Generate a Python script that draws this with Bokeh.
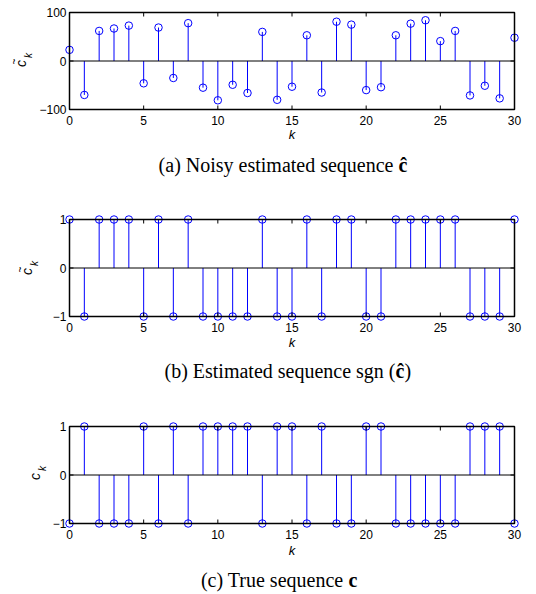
import math

from bokeh.core.properties import value
from bokeh.embed import file_html
from bokeh.layouts import column
from bokeh.models import ColumnDataSource, Range1d
from bokeh.plotting import figure
from bokeh.resources import INLINE

# sample index
k = list(range(31))

# (a) noisy estimate of the sequence
c_hat = [23, -70, 62, 67, 73, -46, 69, -35, 78, -55, -81, -49, -66, 60, -80,
         -53, 53, -65, 81, 75, -60, -54, 53, 77, 84, 41, 62, -71, -51, -77, 48]

# (b) sign of the estimate
sgn_c_hat = [1, -1, 1, 1, 1, -1, 1, -1, 1, -1, -1, -1, -1, 1, -1,
             -1, 1, -1, 1, 1, -1, -1, 1, 1, 1, 1, 1, -1, -1, -1, 1]

# (c) true sequence
c_true = [-1, 1, -1, -1, -1, 1, -1, 1, -1, 1, 1, 1, 1, -1, 1,
          1, -1, 1, -1, -1, 1, 1, -1, -1, -1, -1, -1, 1, 1, 1, -1]

x_ticks = [0, 5, 10, 15, 20, 25, 30]
y_ticks_a = [-100, 0, 100]
y_ticks_bc = [-1, 0, 1]

BLUE = "#0000ff"
FIG_W = 536
BOX_L, BOX_R = 69, 514     # axes box, pixels from the figure's left edge
BOX_T, BOX_B = 12, 109     # axes box, pixels from the figure's top edge
TICK_LEN = 4

SANS = value("Liberation Sans")
SERIF = value("Liberation Serif")


def fmt(t):
    return str(t).replace("-", "\u2212")


class Panel:
    """A stem plot whose data area fills the whole canvas, so markers that sit
    on the box edges and all the text around the box are drawn unclipped."""

    def __init__(self, height, xlim, ylim):
        self.x0, self.x1 = xlim
        self.y0, self.y1 = ylim
        self.ux = (self.x1 - self.x0) / (BOX_R - BOX_L)
        self.uy = (self.y1 - self.y0) / (BOX_B - BOX_T)
        self.p = figure(
            width=FIG_W, height=height, output_backend="svg",
            toolbar_location=None,
            x_range=Range1d(self.px_x(0), self.px_x(FIG_W)),
            y_range=Range1d(self.px_y(height), self.px_y(0)),
            x_axis_location=None, y_axis_location=None,
            min_border=0, min_border_left=0, min_border_right=0,
            min_border_top=0, min_border_bottom=0)
        self.p.outline_line_color = None
        self.p.grid.visible = False
        self.p.background_fill_color = "white"
        self.p.border_fill_color = "white"

    # pixel position -> data coordinate
    def px_x(self, px):
        return self.x0 + (px - BOX_L) * self.ux

    def px_y(self, py):
        return self.y0 + (BOX_B - py) * self.uy

    def text(self, px, py, s, size, font=SANS, style="normal",
             align="center", baseline="middle", angle=0.0):
        self.p.text(x=[self.px_x(px)], y=[self.px_y(py)], text=[s],
                    text_font=font, text_font_size=value(size),
                    text_font_style=value(style), text_color="black",
                    text_align=value(align), text_baseline=value(baseline),
                    angle=angle)

    def ylabel(self, cx, cy, tilde):
        """Rotated c_k label: c at (cx, cy), optional tilde over it, k below."""
        rot = math.pi / 2
        self.text(cx, cy, "c", "14px", style="italic", angle=rot)
        if tilde:
            self.text(cx - 6, cy - 2, "~", "10px", angle=rot)
        self.text(cx + 8, cy - 8, "k", "10px", style="italic", angle=rot)

    def frame(self, xticks, yticks):
        p = self.p
        p.quad(left=[self.x0], right=[self.x1], bottom=[self.y0], top=[self.y1],
               fill_color=None, line_color="black", line_width=1.5)
        tx = TICK_LEN * self.ux
        ty = TICK_LEN * self.uy
        n, m = len(xticks), len(yticks)
        # inward ticks on all four sides
        p.segment(x0=xticks, y0=[self.y0] * n, x1=xticks, y1=[self.y0 + ty] * n,
                  line_color="black", line_width=1)
        p.segment(x0=xticks, y0=[self.y1] * n, x1=xticks, y1=[self.y1 - ty] * n,
                  line_color="black", line_width=1)
        p.segment(x0=[self.x0] * m, y0=yticks, x1=[self.x0 + tx] * m, y1=yticks,
                  line_color="black", line_width=1)
        p.segment(x0=[self.x1] * m, y0=yticks, x1=[self.x1 - tx] * m, y1=yticks,
                  line_color="black", line_width=1)
        # tick labels
        p.text(x=xticks, y=[self.px_y(BOX_B + 11)] * n,
               text=[fmt(t) for t in xticks], text_font=SANS,
               text_font_size=value("12px"), text_color="black",
               text_align=value("center"), text_baseline=value("middle"))
        p.text(x=[self.px_x(BOX_L - 3)] * m, y=yticks,
               text=[fmt(t) for t in yticks], text_font=SANS,
               text_font_size=value("12px"), text_color="black",
               text_align=value("right"), text_baseline=value("middle"))

    def stems(self, ks, vals):
        p = self.p
        src = ColumnDataSource(dict(k=ks, v=vals))
        p.segment(x0="k", y0=0, x1="k", y1="v", source=src,
                  line_color=BLUE, line_width=1)
        p.line(x=[ks[0], ks[-1]], y=[0, 0], line_color="black", line_width=1)
        p.scatter("k", "v", source=src, marker="circle", size=7.5,
                  fill_color=None, line_color=BLUE, line_width=1)


XLABEL_Y = BOX_B + 25

# (a) noisy estimate
a = Panel(207, (k[0], k[-1]), (-100, 100))
a.stems(k, c_hat)
a.frame(x_ticks, y_ticks_a)
a.text(291.5, XLABEL_Y, "k", "13px", style="italic")
a.ylabel(20, 63, tilde=True)
a.text(398, 164, "(a) Noisy estimated sequence ", "20px", SERIF, align="right")
a.text(398, 164, "\u0109", "20px", SERIF, style="bold", align="left")

# (b) sign of the estimate
b = Panel(207, (k[0], k[-1]), (-1, 1))
b.stems(k, sgn_c_hat)
b.frame(x_ticks, y_ticks_bc)
b.text(291.5, XLABEL_Y + 1, "k", "13px", style="italic")
b.ylabel(26, 64, tilde=True)
b.text(395, 163, "(b) Estimated sequence sgn (", "20px", SERIF, align="right")
b.text(395, 163, "\u0109", "20px", SERIF, style="bold", align="left")
b.text(404, 163, ")", "20px", SERIF, align="left")

# (c) true sequence
c = Panel(180, (k[0], k[-1]), (-1, 1))
c.stems(k, c_true)
c.frame(x_ticks, y_ticks_bc)
c.text(291.5, XLABEL_Y + 2, "k", "13px", style="italic")
c.ylabel(34, 62, tilde=False)
c.text(348, 165, "(c) True sequence ", "20px", SERIF, align="right")
c.text(348, 165, "c", "20px", SERIF, style="bold", align="left")

layout = column(a.p, b.p, c.p, spacing=0)

with open("out.html", "w") as f:
    f.write(file_html(layout, INLINE))
